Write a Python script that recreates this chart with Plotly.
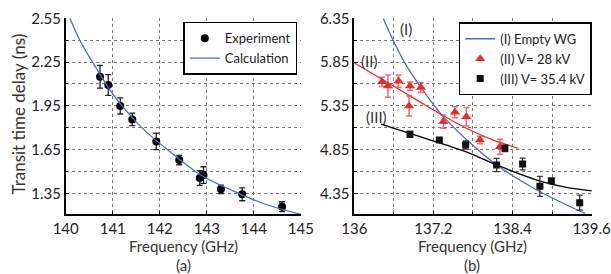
import plotly.graph_objects as go

# ---------------- Panel (a) data ----------------
exp_freq = [140.73, 140.905, 141.16, 141.415, 141.925, 142.414, 142.85, 142.93, 143.30, 143.753, 144.60]
exp_delay = [2.150, 2.093, 1.949, 1.857, 1.706, 1.578, 1.455, 1.475, 1.377, 1.343, 1.258]
exp_err = [0.078, 0.071, 0.055, 0.043, 0.057, 0.032, 0.050, 0.057, 0.029, 0.044, 0.034]

calc_freq = [140.09, 140.30, 140.59, 140.94, 141.30, 141.70, 142.20, 142.90, 143.50, 144.20, 145.00]
calc_delay = [2.55, 2.40, 2.24, 2.06, 1.91, 1.775, 1.640, 1.470, 1.376, 1.280, 1.205]

# ---------------- Panel (b) data ----------------
wg_freq = [136.44, 136.59, 136.77, 137.02, 137.35, 137.68, 138.16, 138.77, 139.50]
wg_delay = [6.35, 6.10, 5.836, 5.55, 5.226, 4.98, 4.674, 4.388, 4.12]

v28_line_freq = [136.00, 136.44, 136.95, 137.35, 137.755, 138.10, 138.49]
v28_line_delay = [5.84, 5.645, 5.416, 5.237, 5.074, 4.96, 4.864]

v35_line_freq = [136.405, 136.90, 137.40, 137.755, 138.16, 138.77, 139.20, 139.62]
v35_line_delay = [5.142, 5.02, 4.90, 4.807, 4.674, 4.502, 4.42, 4.376]

v28_freq = [136.42, 136.51, 136.67, 136.845, 136.83, 137.01, 137.35, 137.527, 137.70, 137.906, 138.21]
v28_delay = [5.625, 5.576, 5.633, 5.576, 5.348, 5.561, 5.169, 5.276, 5.226, 4.960, 4.883]
v28_err = [0.053, 0.128, 0.070, 0.048, 0.114, 0.057, 0.076, 0.063, 0.105, 0.042, 0.086]

v35_freq = [136.845, 137.29, 137.69, 138.16, 138.285, 138.554, 138.816, 138.99, 139.42]
v35_delay = [5.024, 4.960, 4.902, 4.674, 4.864, 4.685, 4.430, 4.494, 4.243]
v35_err = [0.034, 0.020, 0.046, 0.076, 0.038, 0.067, 0.114, 0.020, 0.086]

a_xticks = [140, 141, 142, 143, 144, 145]
a_yticks = [1.35, 1.65, 1.95, 2.25, 2.55]
b_xticks = [136, 137.2, 138.4, 139.6]
b_yticks = [4.35, 4.85, 5.35, 5.85, 6.35]

FONT = "Lato"
BLUE = "#4a6cc4"
RED = "#ee2a2a"

fig = go.Figure()

fig.add_trace(go.Scatter(
    x=exp_freq, y=exp_delay, mode="markers", name="Experiment",
    marker=dict(color="black", size=8, symbol="circle"),
    error_y=dict(type="data", array=exp_err, color="#222", thickness=1.3, width=3),
    xaxis="x", yaxis="y", legend="legend"))
fig.add_trace(go.Scatter(
    x=calc_freq, y=calc_delay, mode="lines", name="Calculation",
    line=dict(color=BLUE, width=1.3, shape="spline"),
    xaxis="x", yaxis="y", legend="legend"))

fig.add_trace(go.Scatter(
    x=wg_freq, y=wg_delay, mode="lines", name="(I) Empty WG",
    line=dict(color=BLUE, width=1.3, shape="spline"),
    xaxis="x2", yaxis="y2", legend="legend2"))
fig.add_trace(go.Scatter(
    x=v28_line_freq, y=v28_line_delay, mode="lines", showlegend=False,
    line=dict(color=RED, width=1.3, shape="spline"),
    xaxis="x2", yaxis="y2"))
fig.add_trace(go.Scatter(
    x=v35_line_freq, y=v35_line_delay, mode="lines", showlegend=False,
    line=dict(color="black", width=1.3, shape="spline"),
    xaxis="x2", yaxis="y2"))
fig.add_trace(go.Scatter(
    x=v28_freq, y=v28_delay, mode="markers", name="(II) V= 28 kV",
    marker=dict(color=RED, size=9, symbol="triangle-up"),
    error_y=dict(type="data", array=v28_err, color="rgba(235,60,60,0.75)", thickness=1.5, width=3),
    xaxis="x2", yaxis="y2", legend="legend2"))
fig.add_trace(go.Scatter(
    x=v35_freq, y=v35_delay, mode="markers", name="(III) V= 35.4 kV",
    marker=dict(color="#111", size=7, symbol="square"),
    error_y=dict(type="data", array=v35_err, color="#333", thickness=1.3, width=3),
    xaxis="x2", yaxis="y2", legend="legend2"))

grid = dict(showgrid=True, gridcolor="#777", griddash="dot", gridwidth=1)
common = dict(showline=True, linecolor="black", linewidth=1.5, ticks="inside",
              ticklen=4, tickcolor="black", zeroline=False, automargin=False,
              ticklabeloverflow="allow",
              tickfont=dict(family=FONT, size=15, color="#222"), **grid)

fig.update_layout(
    template="none",
    width=611, height=274, margin=dict(l=0, r=0, t=0, b=0, autoexpand=False),
    paper_bgcolor="white", plot_bgcolor="white",
    font=dict(family=FONT, color="#222"),
    xaxis=dict(domain=[0.1075, 0.4926], range=[140, 145.002], anchor="y",
               tickvals=a_xticks, ticktext=[str(v) for v in a_xticks], **common),
    yaxis=dict(domain=[0.2179, 0.9332], range=[1.206, 2.5505], anchor="x",
               tickvals=a_yticks, ticktext=["%.2f" % v for v in a_yticks],
               minor=dict(dtick=0.15, tick0=1.2, showgrid=True, gridcolor="#777",
                          griddash="dot", ticks="inside", ticklen=3, tickcolor="black"),
               **common),
    xaxis2=dict(domain=[0.5799, 0.9684], range=[136, 139.602], anchor="y2",
                tickvals=b_xticks, ticktext=[str(v) for v in b_xticks],
                minor=dict(dtick=0.6, tick0=136, showgrid=True, gridcolor="#777",
                           griddash="dot", ticks="inside", ticklen=3, tickcolor="black"),
                **common),
    yaxis2=dict(domain=[0.2179, 0.9332], range=[4.11, 6.351], anchor="x2",
                tickvals=b_yticks, ticktext=["%.2f" % v for v in b_yticks],
                minor=dict(dtick=0.25, tick0=4.1, showgrid=True, gridcolor="#777",
                           griddash="dot", ticks="inside", ticklen=3, tickcolor="black"),
                **common),
    legend=dict(x=0.4866, y=0.9208, xanchor="right", yanchor="top",
                bgcolor="white", bordercolor="black", borderwidth=1.5,
                font=dict(family=FONT, size=13, color="#222"),
                tracegroupgap=0, itemwidth=30),
    legend2=dict(x=0.9684, y=0.9186, xanchor="right", yanchor="top",
                 bgcolor="white", bordercolor="black", borderwidth=1.5,
                 font=dict(family=FONT, size=13, color="#222"),
                 tracegroupgap=0, itemwidth=30),
    showlegend=True,
)

ann_font = dict(family=FONT, size=15, color="#333")
base = dict(showarrow=False, xanchor="center", yanchor="middle")
annotations = [
    dict(text="Transit time delay (ns)", x=17.5 / 611, y=1 - 114 / 274, xref="paper", yref="paper",
         textangle=-90, font=dict(family=FONT, size=17, color="#333"), **base),
    dict(text="Frequency (GHz)", x=183.5 / 611, y=1 - 246 / 274, xref="paper", yref="paper",
         font=ann_font, **base),
    dict(text="(a)", x=183.5 / 611, y=1 - 265 / 274, xref="paper", yref="paper",
         font=ann_font, **base),
    dict(text="Frequency (GHz)", x=472 / 611, y=1 - 246 / 274, xref="paper", yref="paper",
         font=ann_font, **base),
    dict(text="(b)", x=472 / 611, y=1 - 265 / 274, xref="paper", yref="paper",
         font=ann_font, **base),
    dict(text="(I)", x=136.78, y=6.23, xref="x2", yref="y2", font=ann_font, **base),
    dict(text="(II)", x=136.22, y=5.86, xref="x2", yref="y2", font=ann_font, **base),
    dict(text="(III)", x=136.34, y=5.226, xref="x2", yref="y2", font=ann_font, **base),
]
fig.update_layout(annotations=annotations)

fig.write_html("out.html", config={"displayModeBar": False},
               post_script="document.body.style.margin='0';document.body.style.overflow='hidden';")
